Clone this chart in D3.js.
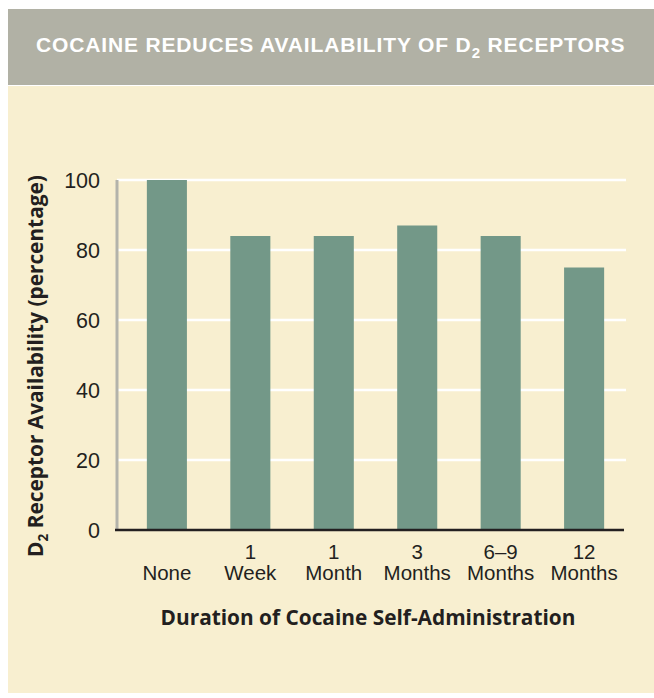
<!DOCTYPE html>
<html>
<head>
<meta charset="utf-8">
<script src="https://cdn.jsdelivr.net/npm/d3@7"></script>
<style>
  body { margin: 0; background: #fff; }
  svg { display: block; }
  text { font-family: "Liberation Sans", Arial, sans-serif; fill: #231f20; }
</style>
</head>
<body>
<svg width="654" height="698"></svg>
<script>
// durations of self-administration (two-line labels)
var durationTop = ["", "1", "1", "3", "6\u20139", "12"];
var durationBottom = ["None", "Week", "Month", "Months", "Months", "Months"];
// D2 receptor availability, percent of baseline
var availability = [100, 84, 84, 87, 84, 75];
var yTicks = [0, 20, 40, 60, 80, 100];

var data = availability.map(function(v, i) {
  return { key: durationTop[i] + " " + durationBottom[i], top: durationTop[i], bottom: durationBottom[i], value: v };
});

var svg = d3.select("svg");

// shrink/grow a text so it spans a given width
function fitWidth(sel, target) {
  var node = sel.node();
  var fs = parseFloat(sel.style("font-size"));
  var w = node.getComputedTextLength();
  if (w > 0) sel.style("font-size", (fs * target / w).toFixed(2) + "px");
}

// background panels
svg.append("rect").attr("x", 8).attr("y", 9).attr("width", 646).attr("height", 76).attr("fill", "#b1b1a5");
svg.append("rect").attr("x", 8).attr("y", 86).attr("width", 646).attr("height", 607).attr("fill", "#f8efd0");

var title = svg.append("text")
  .attr("x", 36).attr("y", 52)
  .style("font-weight", "bold")
  .style("font-size", "21px")
  .style("letter-spacing", "0.85px")
  .style("fill", "#fff");
title.append("tspan").text("COCAINE REDUCES AVAILABILITY OF D");
title.append("tspan").attr("dy", 6).style("font-size", "15px").text("2");
title.append("tspan").attr("dy", -6).text(" RECEPTORS");

var x = d3.scaleBand()
  .domain(data.map(function(d) { return d.key; }))
  .range([126, 625])
  .paddingInner(0.52)
  .paddingOuter(0.25);

var y = d3.scaleLinear().domain([0, 100]).range([530, 180]);

// gridlines
svg.selectAll(".grid")
  .data(yTicks.filter(function(t) { return t > 0; }))
  .enter()
  .append("line")
  .attr("class", "grid")
  .attr("x1", 117).attr("x2", 626)
  .attr("y1", function(d) { return y(d); })
  .attr("y2", function(d) { return y(d); })
  .style("stroke", "#fff")
  .style("stroke-width", 2.5);

// bars
svg.selectAll(".bar")
  .data(data)
  .enter()
  .append("rect")
  .attr("class", "bar")
  .attr("x", function(d) { return x(d.key); })
  .attr("width", x.bandwidth())
  .attr("y", function(d) { return y(d.value); })
  .attr("height", function(d) { return y(0) - y(d.value); })
  .style("fill", "#739888");

// y axis line
svg.append("line")
  .attr("x1", 117).attr("x2", 117)
  .attr("y1", y(100)).attr("y2", y(0))
  .style("stroke", "#b3b3ab").style("stroke-width", 3);

// baseline
svg.append("line")
  .attr("x1", 115).attr("x2", 624)
  .attr("y1", y(0)).attr("y2", y(0))
  .style("stroke", "#231f20").style("stroke-width", 2.5);

// y tick labels
svg.selectAll(".ytick")
  .data(yTicks)
  .enter()
  .append("text")
  .attr("class", "ytick")
  .attr("x", 100)
  .attr("y", function(d) { return y(d); })
  .attr("dy", "0.36em")
  .attr("text-anchor", "end")
  .style("font-size", "21.5px")
  .text(function(d) { return d; });

// x labels, two lines each
svg.selectAll(".xtop")
  .data(data)
  .enter()
  .append("text")
  .attr("class", "xtop")
  .attr("text-anchor", "middle")
  .attr("x", function(d) { return x(d.key) + x.bandwidth() / 2; })
  .attr("y", 559)
  .style("font-size", "20.5px")
  .text(function(d) { return d.top; });
svg.selectAll(".xbot")
  .data(data)
  .enter()
  .append("text")
  .attr("class", "xbot")
  .attr("text-anchor", "middle")
  .attr("x", function(d) { return x(d.key) + x.bandwidth() / 2; })
  .attr("y", 580)
  .style("font-size", "20.5px")
  .text(function(d) { return d.bottom; });

// axis titles
var xt = svg.append("text")
  .attr("x", 368).attr("y", 625)
  .attr("text-anchor", "middle")
  .style("font-family", "'Open Sans', sans-serif")
  .style("font-weight", "bold")
  .style("font-size", "19px")
  .text("Duration of Cocaine Self-Administration");
fitWidth(xt, 415);

var yt = svg.append("text")
  .attr("transform", "translate(43,366) rotate(-90)")
  .attr("text-anchor", "middle")
  .style("font-family", "'Open Sans', sans-serif")
  .style("font-weight", "bold")
  .style("font-size", "19px");
yt.append("tspan").text("D");
yt.append("tspan").attr("dy", 5).style("font-size", "0.65em").text("2");
yt.append("tspan").attr("dy", -5).text(" Receptor Availability (percentage)");
fitWidth(yt, 382);
</script>
</body>
</html>
